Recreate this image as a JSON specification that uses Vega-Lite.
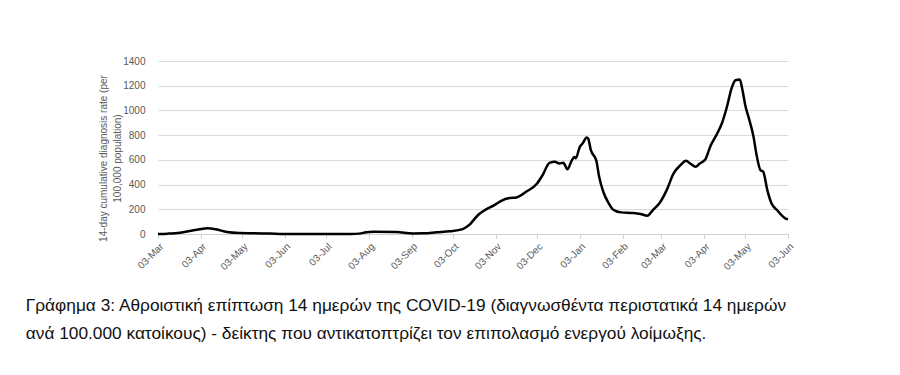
{
  "$schema": "https://vega.github.io/schema/vega-lite/v6.json",
  "width": 630,
  "height": 173,
  "autosize": {"type": "none"},
  "padding": {"left": 158, "top": 61, "right": 112, "bottom": 141},
  "background": "white",
  "config": {"view": {"stroke": null}},
  "title": {
    "text": ["Γράφημα 3: Αθροιστική επίπτωση 14 ημερών της COVID-19 (διαγνωσθέντα περιστατικά 14 ημερών", "ανά 100.000 κατοίκους) - δείκτης που αντικατοπτρίζει τον επιπολασμό ενεργού λοίμωξης."],
    "orient": "bottom",
    "anchor": "start",
    "dx": -73,
    "offset": 25,
    "lineHeight": 28,
    "fontSize": 17.3,
    "fontWeight": "normal",
    "font": "Liberation Sans",
    "color": "#111111"
  },
  "data": {"values": [
    {"date": "2020-03-03", "rate": 0},
    {"date": "2020-03-10", "rate": 3},
    {"date": "2020-03-19", "rate": 11},
    {"date": "2020-03-26", "rate": 24},
    {"date": "2020-04-02", "rate": 38},
    {"date": "2020-04-08", "rate": 46},
    {"date": "2020-04-14", "rate": 38},
    {"date": "2020-04-22", "rate": 16},
    {"date": "2020-05-01", "rate": 8},
    {"date": "2020-05-18", "rate": 5},
    {"date": "2020-05-30", "rate": 1},
    {"date": "2020-06-14", "rate": 0},
    {"date": "2020-07-21", "rate": 0},
    {"date": "2020-07-27", "rate": 3},
    {"date": "2020-08-01", "rate": 14},
    {"date": "2020-08-06", "rate": 19},
    {"date": "2020-08-23", "rate": 16},
    {"date": "2020-09-04", "rate": 5},
    {"date": "2020-09-12", "rate": 6},
    {"date": "2020-09-21", "rate": 14},
    {"date": "2020-10-01", "rate": 22},
    {"date": "2020-10-10", "rate": 40},
    {"date": "2020-10-13", "rate": 59},
    {"date": "2020-10-16", "rate": 86},
    {"date": "2020-10-17", "rate": 100},
    {"date": "2020-10-22", "rate": 162},
    {"date": "2020-10-27", "rate": 199},
    {"date": "2020-11-02", "rate": 234},
    {"date": "2020-11-07", "rate": 269},
    {"date": "2020-11-13", "rate": 291},
    {"date": "2020-11-18", "rate": 296},
    {"date": "2020-11-25", "rate": 342},
    {"date": "2020-12-03", "rate": 409},
    {"date": "2020-12-07", "rate": 477},
    {"date": "2020-12-12", "rate": 576},
    {"date": "2020-12-16", "rate": 584},
    {"date": "2020-12-19", "rate": 571},
    {"date": "2020-12-22", "rate": 576},
    {"date": "2020-12-25", "rate": 523},
    {"date": "2020-12-28", "rate": 592},
    {"date": "2020-12-30", "rate": 624},
    {"date": "2020-12-31", "rate": 612},
    {"date": "2021-01-03", "rate": 705},
    {"date": "2021-01-05", "rate": 732},
    {"date": "2021-01-08", "rate": 781},
    {"date": "2021-01-09", "rate": 773},
    {"date": "2021-01-11", "rate": 678},
    {"date": "2021-01-15", "rate": 592},
    {"date": "2021-01-17", "rate": 463},
    {"date": "2021-01-20", "rate": 342},
    {"date": "2021-01-24", "rate": 248},
    {"date": "2021-01-27", "rate": 199},
    {"date": "2021-02-02", "rate": 175},
    {"date": "2021-02-11", "rate": 170},
    {"date": "2021-02-16", "rate": 162},
    {"date": "2021-02-21", "rate": 148},
    {"date": "2021-02-25", "rate": 194},
    {"date": "2021-03-02", "rate": 253},
    {"date": "2021-03-07", "rate": 355},
    {"date": "2021-03-12", "rate": 490},
    {"date": "2021-03-17", "rate": 557},
    {"date": "2021-03-21", "rate": 592},
    {"date": "2021-03-24", "rate": 571},
    {"date": "2021-03-28", "rate": 544},
    {"date": "2021-03-31", "rate": 571},
    {"date": "2021-04-04", "rate": 603},
    {"date": "2021-04-08", "rate": 719},
    {"date": "2021-04-12", "rate": 800},
    {"date": "2021-04-16", "rate": 894},
    {"date": "2021-04-20", "rate": 1042},
    {"date": "2021-04-23", "rate": 1177},
    {"date": "2021-04-26", "rate": 1244},
    {"date": "2021-04-29", "rate": 1250},
    {"date": "2021-05-01", "rate": 1163},
    {"date": "2021-05-03", "rate": 1042},
    {"date": "2021-05-06", "rate": 921},
    {"date": "2021-05-09", "rate": 786},
    {"date": "2021-05-11", "rate": 652},
    {"date": "2021-05-14", "rate": 517},
    {"date": "2021-05-16", "rate": 505},
    {"date": "2021-05-19", "rate": 355},
    {"date": "2021-05-22", "rate": 248},
    {"date": "2021-05-26", "rate": 194},
    {"date": "2021-06-01", "rate": 127},
    {"date": "2021-06-03", "rate": 118}
  ]},
  "mark": {"type": "line", "color": "#000000", "strokeWidth": 2.5, "interpolate": "monotone"},
  "encoding": {
    "x": {
      "field": "date",
      "type": "temporal",
      "scale": {"type": "utc", "domain": [{"year": 2020, "month": 3, "date": 3, "utc": true}, {"year": 2021, "month": 6, "date": 3, "utc": true}]},
      "axis": {
        "title": null,
        "values": [
          {"year": 2020, "month": 3, "date": 3, "utc": true},
          {"year": 2020, "month": 4, "date": 3, "utc": true},
          {"year": 2020, "month": 5, "date": 3, "utc": true},
          {"year": 2020, "month": 6, "date": 3, "utc": true},
          {"year": 2020, "month": 7, "date": 3, "utc": true},
          {"year": 2020, "month": 8, "date": 3, "utc": true},
          {"year": 2020, "month": 9, "date": 3, "utc": true},
          {"year": 2020, "month": 10, "date": 3, "utc": true},
          {"year": 2020, "month": 11, "date": 3, "utc": true},
          {"year": 2020, "month": 12, "date": 3, "utc": true},
          {"year": 2021, "month": 1, "date": 3, "utc": true},
          {"year": 2021, "month": 2, "date": 3, "utc": true},
          {"year": 2021, "month": 3, "date": 3, "utc": true},
          {"year": 2021, "month": 4, "date": 3, "utc": true},
          {"year": 2021, "month": 5, "date": 3, "utc": true},
          {"year": 2021, "month": 6, "date": 3, "utc": true}
        ],
        "format": "%d-%b",
        "labelAngle": -45,
        "labelFont": "Liberation Sans",
        "labelFontSize": 10,
        "labelColor": "#595959",
        "labelPadding": 3,
        "labelOverlap": false,
        "labelFlush": false,
        "grid": false,
        "domainColor": "#d0d0d0",
        "tickColor": "#d0d0d0",
        "tickSize": 4
      }
    },
    "y": {
      "field": "rate",
      "type": "quantitative",
      "scale": {"domain": [0, 1400], "nice": false},
      "axis": {
        "title": ["14-day cumulative diagnosis rate (per", "100,000 population)"],
        "titleFont": "Liberation Sans",
        "titleFontSize": 10,
        "titleFontWeight": "normal",
        "titleColor": "#595959",
        "titlePadding": 0,
        "titleLineHeight": 14,
        "titleY": 97,
        "values": [0, 200, 400, 600, 800, 1000, 1200, 1400],
        "format": "d",
        "labelFont": "Liberation Sans",
        "labelFontSize": 10,
        "labelColor": "#595959",
        "labelPadding": 13,
        "domain": false,
        "ticks": false,
        "gridColor": "#d9d9d9",
        "gridWidth": 1
      }
    }
  }
}
